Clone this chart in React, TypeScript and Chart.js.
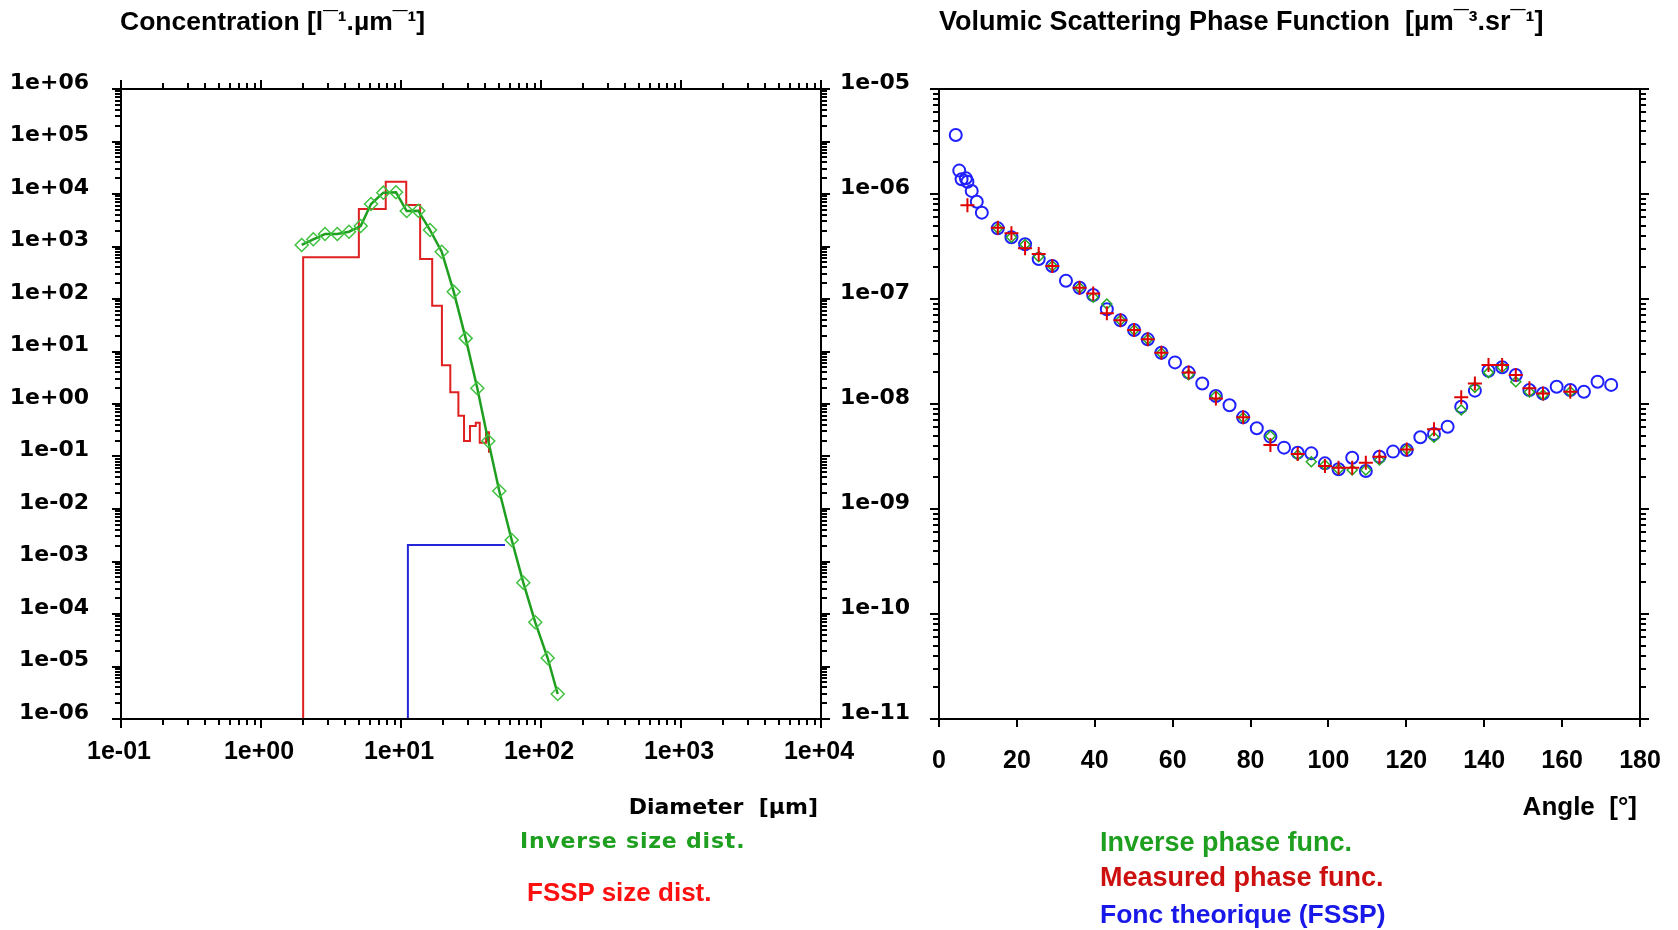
import React, { useEffect, useRef } from 'react';
import { Chart, registerables } from 'chart.js';
Chart.register(...registerables);

// ---------------- data: size distribution (left) ----------------
const sizeDecades = [0.1, 1, 10, 100, 1000, 10000];
const concDecades = [1e-6, 1e-5, 1e-4, 1e-3, 1e-2, 1e-1, 1, 10, 100, 1e3, 1e4, 1e5, 1e6];

// FSSP size distribution (stepped histogram): bin left edges and level
const fsspEdges = [2.0, 5.0, 7.78, 10.9, 13.7, 16.7, 19.6, 22.5, 25.7, 28.2, 31.1, 34.2, 36.5, 40.5, 42.5];
const fsspConc = [623, 5180, 17100, 6170, 578, 74.5, 5.5, 1.67, 0.6, 0.197, 0.38, 0.44, 0.183, 0.29, 0.118];
const belowAxis = 1e-8;

// theoretical (blue) single bin
const theoEdges = [11.2, 55.3];
const theoLevel = [2.06e-3];

// inverse size distribution (green)
const invDiam = [1.953, 2.364, 2.864, 3.508, 4.252, 5.152, 6.107, 7.476, 9.21, 10.98, 13.29, 16.11, 19.53, 23.79, 28.98, 35.08, 42.03, 50.35, 61.76, 74.75, 90.99, 111.6, 131.6];
const invConc = [1070, 1371, 1730, 1730, 1914, 2457, 6450, 10600, 10770, 4740, 4810, 2060, 796, 138, 17.8, 1.99, 0.197, 0.022, 2.57e-3, 3.95e-4, 6.95e-5, 1.45e-5, 2.99e-6];

// ---------------- data: phase function (right) ----------------
const angleTicks = [0, 20, 40, 60, 80, 100, 120, 140, 160, 180];
const vsfDecades = [1e-11, 1e-10, 1e-9, 1e-8, 1e-7, 1e-6, 1e-5];

const theoAngle = [4.3, 5.2, 5.8, 6.9, 7.3, 8.4, 9.7, 11.0, 15.1, 18.6, 22.1, 25.6, 29.1, 32.6, 36.1, 39.6, 43.1, 46.6, 50.1, 53.6, 57.1, 60.6, 64.1, 67.6, 71.1, 74.6, 78.1, 81.6, 85.1, 88.6, 92.1, 95.6, 99.1, 102.6, 106.1, 109.6, 113.1, 116.6, 120.1, 123.6, 127.1, 130.6, 134.1, 137.6, 141.1, 144.6, 148.1, 151.6, 155.1, 158.6, 162.1, 165.6, 169.1, 172.6];
const theoVsf = [3.65e-6, 1.67e-6, 1.38e-6, 1.41e-6, 1.31e-6, 1.07e-6, 8.45e-7, 6.64e-7, 4.71e-7, 3.87e-7, 3.32e-7, 2.4e-7, 2.06e-7, 1.49e-7, 1.28e-7, 1.09e-7, 7.98e-8, 6.27e-8, 5.07e-8, 4.13e-8, 3.08e-8, 2.49e-8, 1.99e-8, 1.57e-8, 1.19e-8, 9.73e-9, 7.46e-9, 5.87e-9, 4.89e-9, 3.84e-9, 3.44e-9, 3.39e-9, 2.72e-9, 2.39e-9, 3.08e-9, 2.3e-9, 3.15e-9, 3.52e-9, 3.65e-9, 4.82e-9, 5.18e-9, 6.08e-9, 9.42e-9, 1.34e-8, 2.07e-8, 2.24e-8, 1.89e-8, 1.36e-8, 1.26e-8, 1.46e-8, 1.36e-8, 1.31e-8, 1.63e-8, 1.52e-8];

const measAngle = [7.3, 15.1, 18.6, 22.1, 25.6, 29.1, 36.1, 39.6, 43.1, 46.6, 50.1, 53.6, 57.1, 64.1, 71.1, 78.1, 85.1, 92.1, 99.1, 102.6, 106.1, 109.6, 113.1, 120.1, 127.1, 134.1, 137.6, 141.1, 144.6, 148.1, 151.6, 155.1, 162.1];
const measVsf = [7.8e-7, 4.77e-7, 4.23e-7, 3.04e-7, 2.68e-7, 2.06e-7, 1.28e-7, 1.13e-7, 7.31e-8, 6.27e-8, 5.07e-8, 4.13e-8, 3.08e-8, 1.99e-8, 1.13e-8, 7.46e-9, 4.07e-9, 3.34e-9, 2.57e-9, 2.47e-9, 2.47e-9, 2.76e-9, 3.15e-9, 3.69e-9, 5.74e-9, 1.16e-8, 1.57e-8, 2.35e-8, 2.35e-8, 1.89e-8, 1.41e-8, 1.26e-8, 1.31e-8];

const invAngle = [15.1, 18.6, 22.1, 25.6, 29.1, 36.1, 39.6, 43.1, 46.6, 50.1, 53.6, 57.1, 64.1, 71.1, 78.1, 85.1, 92.1, 95.6, 99.1, 102.6, 106.1, 109.6, 113.1, 120.1, 127.1, 134.1, 137.6, 141.1, 144.6, 148.1, 151.6, 155.1, 162.1];
const invVsf = [4.71e-7, 3.87e-7, 3.3e-7, 2.53e-7, 2.06e-7, 1.28e-7, 1.04e-7, 8.95e-8, 6.27e-8, 5.07e-8, 4.13e-8, 3.06e-8, 1.9e-8, 1.19e-8, 7.4e-9, 4.95e-9, 3.27e-9, 2.82e-9, 2.62e-9, 2.39e-9, 2.35e-9, 2.35e-9, 2.93e-9, 3.7e-9, 4.82e-9, 8.77e-9, 1.44e-8, 1.99e-8, 2.24e-8, 1.63e-8, 1.3e-8, 1.22e-8, 1.31e-8];

// ---------------- styling ----------------
const GREEN_LINE = '#1f9f1f';
const GREEN_PT = '#3fc23f';
const RED = '#de2020';
const BLUE = '#2424d8';
const SANS = '"Liberation Sans", Arial, sans-serif';
const DEJAVU = '"DejaVu Sans", sans-serif';

const sci = (v: number) => {
  const e = Math.round(Math.log10(v));
  return '1e' + (e < 0 ? '-' : '+') + String(Math.abs(e)).padStart(2, '0');
};

type TickMark = { v: number; len: number };
const logMarks = (decades: number[]): TickMark[] => {
  const out: TickMark[] = [];
  for (let i = 0; i < decades.length; i++) {
    out.push({ v: decades[i], len: 9 });
    if (i < decades.length - 1) {
      for (let m = 2; m <= 9; m++) out.push({ v: decades[i] * m, len: 6 });
    }
  }
  return out;
};

const framePlugin = (xMarks: TickMark[], yMarks: TickMark[], topTicks: boolean) => ({
  id: 'frameTicks',
  afterDatasetsDraw(chart: any) {
    const { ctx, chartArea: a } = chart;
    const xs = chart.scales.x;
    const ys = chart.scales.y;
    ctx.save();
    ctx.strokeStyle = '#000';
    ctx.lineWidth = 2;
    ctx.strokeRect(a.left, a.top, a.right - a.left, a.bottom - a.top);
    ctx.beginPath();
    for (const t of xMarks) {
      const px = Math.round(xs.getPixelForValue(t.v));
      ctx.moveTo(px, a.bottom);
      ctx.lineTo(px, a.bottom + t.len);
      if (topTicks) {
        ctx.moveTo(px, a.top);
        ctx.lineTo(px, a.top - t.len);
      }
    }
    for (const t of yMarks) {
      const py = Math.round(ys.getPixelForValue(t.v));
      ctx.moveTo(a.left, py);
      ctx.lineTo(a.left - t.len, py);
      ctx.moveTo(a.right, py);
      ctx.lineTo(a.right + t.len, py);
    }
    ctx.stroke();
    ctx.restore();
  },
});

const noGrid = { display: false, drawTicks: false };
const fixX = (h: number) => (s: any) => {
  s.height = h;
  s.paddingLeft = 0;
  s.paddingRight = 0;
};
const fixY = (w: number) => (s: any) => {
  s.width = w;
  s.paddingTop = 0;
  s.paddingBottom = 0;
};

function makeLeft(canvas: HTMLCanvasElement) {
  const fsspPts = [{ x: fsspEdges[0], y: belowAxis }, ...fsspEdges.map((x, i) => ({ x, y: fsspConc[i] }))];
  const theoPts = [
    { x: theoEdges[0], y: belowAxis },
    { x: theoEdges[0], y: theoLevel[0] },
    { x: theoEdges[1], y: theoLevel[0] },
  ];
  return new Chart(canvas, {
    type: 'scatter',
    data: {
      datasets: [
        {
          label: 'Inverse size dist.',
          data: invDiam.map((x, i) => ({ x, y: invConc[i] })),
          showLine: true,
          borderColor: GREEN_LINE,
          borderWidth: 2.5,
          pointStyle: 'rectRot',
          pointRadius: 6.5,
          pointBorderColor: GREEN_PT,
          pointBackgroundColor: 'rgba(0,0,0,0)',
          pointBorderWidth: 1.5,
          order: 0,
        } as any,
        {
          label: 'FSSP size dist.',
          data: fsspPts,
          showLine: true,
          stepped: 'before',
          borderColor: RED,
          borderWidth: 2,
          pointRadius: 0,
          order: 1,
        } as any,
        {
          label: 'Theoretical',
          data: theoPts,
          showLine: true,
          borderColor: BLUE,
          borderWidth: 2,
          pointRadius: 0,
          order: 2,
        } as any,
      ],
    },
    options: {
      responsive: false,
      animation: false,
      devicePixelRatio: 1,
      events: [],
      layout: { padding: { top: 89, right: 39, left: 0, bottom: 0 } },
      plugins: { legend: { display: false }, tooltip: { enabled: false } },
      scales: {
        x: {
          type: 'logarithmic',
          min: 0.1,
          max: 1e4,
          grid: noGrid,
          border: { display: false },
          afterBuildTicks: (s: any) => {
            s.ticks = sizeDecades.map((v) => ({ value: v }));
          },
          afterFit: fixX(211),
          ticks: {
            callback: (v: any) => sci(Number(v)),
            font: { family: SANS, weight: 'bold', size: 25 },
            color: '#000',
            padding: 18,
            labelOffset: -2,
            maxRotation: 0,
            autoSkip: false,
          },
        } as any,
        y: {
          type: 'logarithmic',
          min: 1e-6,
          max: 1e6,
          grid: noGrid,
          border: { display: false },
          afterBuildTicks: (s: any) => {
            s.ticks = concDecades.map((v) => ({ value: v }));
          },
          afterFit: fixY(121),
          ticks: {
            callback: (v: any) => sci(Number(v)),
            font: { family: DEJAVU, weight: 'bold', size: 22 },
            color: '#000',
            padding: 32,
            labelOffset: -6,
            autoSkip: false,
          },
        } as any,
      },
    },
    plugins: [framePlugin(logMarks(sizeDecades), logMarks(concDecades), true)],
  });
}

function makeRight(canvas: HTMLCanvasElement) {
  return new Chart(canvas, {
    type: 'scatter',
    data: {
      datasets: [
        {
          label: 'Measured phase func.',
          data: measAngle.map((x, i) => ({ x, y: measVsf[i] })),
          pointStyle: 'cross',
          pointRadius: 7,
          pointBorderColor: '#e00000',
          pointBorderWidth: 2,
          order: 0,
        } as any,
        {
          label: 'Inverse phase func.',
          data: invAngle.map((x, i) => ({ x, y: invVsf[i] })),
          pointStyle: 'rectRot',
          pointRadius: 5,
          pointBorderColor: '#22a822',
          pointBackgroundColor: 'rgba(0,0,0,0)',
          pointBorderWidth: 1.5,
          order: 1,
        } as any,
        {
          label: 'Fonc theorique (FSSP)',
          data: theoAngle.map((x, i) => ({ x, y: theoVsf[i] })),
          pointStyle: 'circle',
          pointRadius: 6,
          pointBorderColor: '#2020ff',
          pointBackgroundColor: 'rgba(0,0,0,0)',
          pointBorderWidth: 2,
          order: 2,
        } as any,
      ],
    },
    options: {
      responsive: false,
      animation: false,
      devicePixelRatio: 1,
      events: [],
      layout: { padding: { top: 89, right: 38, left: 0, bottom: 0 } },
      plugins: { legend: { display: false }, tooltip: { enabled: false } },
      scales: {
        x: {
          type: 'linear',
          min: 0,
          max: 180,
          grid: noGrid,
          border: { display: false },
          afterBuildTicks: (s: any) => {
            s.ticks = angleTicks.map((v) => ({ value: v }));
          },
          afterFit: fixX(211),
          ticks: {
            font: { family: SANS, weight: 'bold', size: 25 },
            color: '#000',
            padding: 27,
            maxRotation: 0,
            autoSkip: false,
          },
        } as any,
        y: {
          type: 'logarithmic',
          min: 1e-11,
          max: 1e-5,
          grid: noGrid,
          border: { display: false },
          afterBuildTicks: (s: any) => {
            s.ticks = vsfDecades.map((v) => ({ value: v }));
          },
          afterFit: fixY(119),
          ticks: {
            callback: (v: any) => sci(Number(v)),
            font: { family: DEJAVU, weight: 'bold', size: 22 },
            color: '#000',
            padding: 29,
            labelOffset: -6,
            autoSkip: false,
          },
        } as any,
      },
    },
    plugins: [framePlugin(angleTicks.map((v) => ({ v, len: 8 })), logMarks(vsfDecades), false)],
  });
}

type TxtProps = { x?: number; right?: number; y: number; size: number; family: string; color?: string; spacing?: number; children: React.ReactNode };
const Txt = ({ x, right, y, size, family, color = '#000', spacing = 0, children }: TxtProps) => (
  <div
    style={{
      position: 'absolute',
      left: x,
      right: right !== undefined ? 1678 - right : undefined,
      top: y,
      transform: 'translateY(-50%)',
      fontFamily: family,
      fontWeight: 'bold',
      fontSize: size,
      letterSpacing: spacing,
      lineHeight: 1,
      color,
      whiteSpace: 'pre',
    }}
  >
    {children}
  </div>
);

export default function App() {
  const leftRef = useRef<HTMLCanvasElement>(null);
  const rightRef = useRef<HTMLCanvasElement>(null);
  useEffect(() => {
    const l = makeLeft(leftRef.current!);
    const r = makeRight(rightRef.current!);
    return () => {
      l.destroy();
      r.destroy();
    };
  }, []);
  return (
    <div style={{ position: 'absolute', left: 0, top: 0, width: 1678, height: 930, background: '#fff', overflow: 'hidden' }}>
      <canvas ref={leftRef} width={860} height={930} style={{ position: 'absolute', left: 0, top: 0, width: 860, height: 930 }} />
      <canvas ref={rightRef} width={858} height={930} style={{ position: 'absolute', left: 820, top: 0, width: 858, height: 930 }} />
      <Txt x={120} y={21} size={26.5} family={SANS}>Concentration [l¯¹.µm¯¹]</Txt>
      <Txt x={939} y={21} size={27} family={SANS}>Volumic Scattering Phase Function  [µm¯³.sr¯¹]</Txt>
      <Txt right={818} y={807} size={22} family={DEJAVU}>Diameter  [µm]</Txt>
      <Txt x={520} y={841} size={22} family={DEJAVU} color="#1f9f1f" spacing={0.8}>Inverse size dist.</Txt>
      <Txt x={527} y={892} size={26} family={SANS} color="#ff1010">FSSP size dist.</Txt>
      <Txt right={1637} y={806} size={26} family={SANS}>Angle  [°]</Txt>
      <Txt x={1100} y={842} size={27} family={SANS} color="#1f9f1f">Inverse phase func.</Txt>
      <Txt x={1100} y={877} size={27} family={SANS} color="#cc1010">Measured phase func.</Txt>
      <Txt x={1100} y={914} size={26.5} family={SANS} color="#1818e8">Fonc theorique (FSSP)</Txt>
    </div>
  );
}
